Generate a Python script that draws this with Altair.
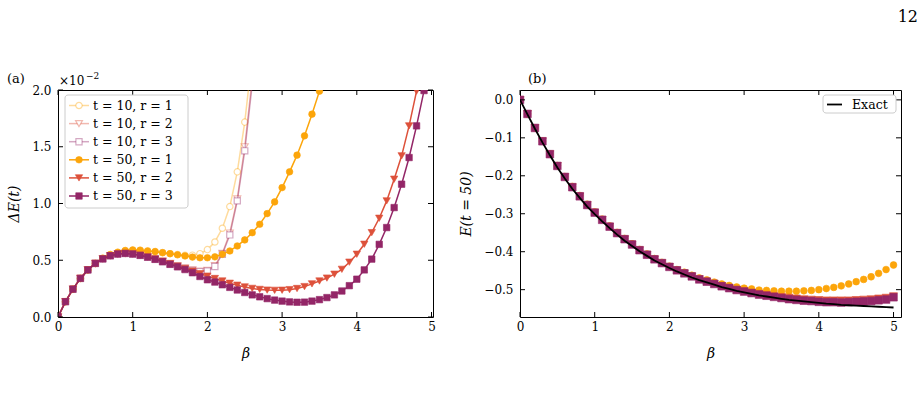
import altair as alt
import pandas as pd

# ---------------- data ----------------
beta = [0.0, 0.1, 0.2, 0.3, 0.4, 0.5, 0.6, 0.7, 0.8, 0.9,
        1.0, 1.1, 1.2, 1.3, 1.4, 1.5, 1.6, 1.7, 1.8, 1.9,
        2.0, 2.1, 2.2, 2.3, 2.4, 2.5, 2.6, 2.7, 2.8, 2.9,
        3.0, 3.1, 3.2, 3.3, 3.4, 3.5, 3.6, 3.7, 3.8, 3.9,
        4.0, 4.1, 4.2, 4.3, 4.4, 4.5, 4.6, 4.7, 4.8, 4.9,
        5.0]

# panel (a): Delta E(t), in units of 1e-2
dE_t10_r1 = [0.000, 0.135, 0.245, 0.340, 0.415, 0.472, 0.518, 0.550, 0.570, 0.585,
             0.590, 0.588, 0.582, 0.576, 0.567, 0.558, 0.550, 0.545, 0.545, 0.558,
             0.594, 0.661, 0.782, 0.973, 1.279, 1.717, 2.300, 3.000]
dE_t10_r2 = [0.000, 0.135, 0.245, 0.340, 0.415, 0.472, 0.512, 0.540, 0.555, 0.560,
             0.556, 0.545, 0.530, 0.512, 0.493, 0.473, 0.453, 0.433, 0.415, 0.405,
             0.412, 0.452, 0.560, 0.740, 1.040, 1.500, 2.100, 2.900]
dE_t10_r3 = [0.000, 0.135, 0.245, 0.340, 0.415, 0.472, 0.512, 0.540, 0.555, 0.560,
             0.555, 0.543, 0.527, 0.508, 0.488, 0.467, 0.447, 0.428, 0.410, 0.400,
             0.405, 0.445, 0.553, 0.723, 1.023, 1.464, 2.050, 2.800]
dE_t50_r1 = [0.000, 0.135, 0.245, 0.340, 0.415, 0.472, 0.518, 0.550, 0.570, 0.585,
             0.590, 0.588, 0.582, 0.576, 0.567, 0.558, 0.548, 0.538, 0.528, 0.522,
             0.522, 0.530, 0.552, 0.582, 0.626, 0.679, 0.743, 0.817, 0.911, 1.014,
             1.140, 1.279, 1.426, 1.596, 1.787, 1.990, 2.300, 2.500, 2.800, 3.100,
             3.500, 4.000, 4.400, 5.000, 5.600, 6.300, 7.000, 7.800, 8.800, 9.900,
             11.200]
dE_t50_r2 = [0.000, 0.135, 0.245, 0.340, 0.415, 0.472, 0.512, 0.540, 0.555, 0.560,
             0.556, 0.545, 0.530, 0.512, 0.492, 0.470, 0.448, 0.426, 0.404, 0.382,
             0.360, 0.339, 0.317, 0.297, 0.280, 0.265, 0.252, 0.243, 0.237, 0.235,
             0.236, 0.241, 0.251, 0.268, 0.292, 0.317, 0.343, 0.377, 0.420, 0.483,
             0.553, 0.641, 0.743, 0.870, 1.023, 1.214, 1.420, 1.684, 1.990, 2.330,
             2.720]
dE_t50_r3 = [0.000, 0.135, 0.245, 0.340, 0.415, 0.472, 0.512, 0.540, 0.555, 0.560,
             0.555, 0.543, 0.527, 0.508, 0.487, 0.464, 0.442, 0.418, 0.390, 0.357,
             0.328, 0.308, 0.284, 0.261, 0.238, 0.216, 0.195, 0.178, 0.162, 0.149,
             0.140, 0.133, 0.130, 0.131, 0.140, 0.153, 0.171, 0.195, 0.229, 0.276,
             0.333, 0.415, 0.510, 0.640, 0.788, 0.964, 1.170, 1.405, 1.684, 1.995,
             2.340]

# panel (b): E(t=50)
E_exact = [0.000, -0.038, -0.076, -0.112, -0.146, -0.178, -0.207, -0.234, -0.258, -0.281,
           -0.301, -0.320, -0.338, -0.355, -0.371, -0.385, -0.399, -0.411, -0.423, -0.433,
           -0.443, -0.452, -0.460, -0.468, -0.475, -0.481, -0.487, -0.493, -0.498, -0.503,
           -0.507, -0.511, -0.515, -0.518, -0.521, -0.524, -0.527, -0.529, -0.531, -0.533,
           -0.535, -0.537, -0.538, -0.540, -0.541, -0.542, -0.543, -0.544, -0.545, -0.546,
           -0.547]
E_t50_r1 = [0.000, -0.037, -0.074, -0.109, -0.142, -0.173, -0.202, -0.228, -0.252, -0.275,
            -0.295, -0.314, -0.332, -0.349, -0.365, -0.379, -0.394, -0.406, -0.418, -0.428,
            -0.438, -0.447, -0.454, -0.462, -0.469, -0.474, -0.480, -0.485, -0.489, -0.493,
            -0.496, -0.498, -0.501, -0.502, -0.503, -0.504, -0.504, -0.504, -0.503, -0.502,
            -0.500, -0.497, -0.494, -0.490, -0.485, -0.479, -0.473, -0.466, -0.457, -0.447,
            -0.435]
E_t50_r2 = [0.000, -0.037, -0.074, -0.109, -0.143, -0.174, -0.203, -0.230, -0.254, -0.277,
            -0.297, -0.316, -0.334, -0.351, -0.367, -0.381, -0.396, -0.408, -0.420, -0.430,
            -0.440, -0.449, -0.457, -0.465, -0.472, -0.478, -0.484, -0.490, -0.495, -0.500,
            -0.504, -0.508, -0.511, -0.514, -0.517, -0.519, -0.521, -0.523, -0.525, -0.526,
            -0.527, -0.528, -0.528, -0.528, -0.528, -0.527, -0.526, -0.525, -0.523, -0.521,
            -0.517]
E_t50_r3 = [0.000, -0.037, -0.074, -0.109, -0.143, -0.174, -0.203, -0.230, -0.254, -0.277,
            -0.297, -0.316, -0.334, -0.351, -0.367, -0.381, -0.396, -0.408, -0.420, -0.430,
            -0.440, -0.449, -0.457, -0.465, -0.473, -0.479, -0.485, -0.491, -0.496, -0.501,
            -0.505, -0.509, -0.513, -0.516, -0.519, -0.522, -0.525, -0.527, -0.529, -0.530,
            -0.532, -0.533, -0.533, -0.534, -0.533, -0.532, -0.531, -0.530, -0.528, -0.526,
            -0.520]

xticks = [0, 1, 2, 3, 4, 5]
yticks_a = [0.0, 0.5, 1.0, 1.5, 2.0]
yticks_b = [0.0, -0.1, -0.2, -0.3, -0.4, -0.5]
legend_labels_a = ["t = 10,  r = 1", "t = 10,  r = 2", "t = 10,  r = 3",
                   "t = 50,  r = 1", "t = 50,  r = 2", "t = 50,  r = 3"]
legend_label_b = "Exact"

# ---------------- style ----------------
FONT = "DejaVu Serif"
C1, C2, C3 = "#fca50a", "#dd513a", "#932667"
WA, WB, H = 375, 381, 227
TICK = 5

styles_a = [
    dict(vals=dE_t10_r1, color=C1, shape="circle", filled=False, alpha=0.4, size=40),
    dict(vals=dE_t10_r2, color=C2, shape="triangle-down", filled=False, alpha=0.4, size=48),
    dict(vals=dE_t10_r3, color=C3, shape="square", filled=False, alpha=0.4, size=38),
    dict(vals=dE_t50_r1, color=C1, shape="circle", filled=True, alpha=1.0, size=44),
    dict(vals=dE_t50_r2, color=C2, shape="triangle-down", filled=True, alpha=1.0, size=54),
    dict(vals=dE_t50_r3, color=C3, shape="square", filled=True, alpha=1.0, size=42),
]

one = pd.DataFrame({"k": [0]})


def marker(color, shape, filled, alpha, size, clip=True):
    if filled:
        return dict(shape=shape, size=size, filled=True, fill=color, stroke=color,
                    strokeWidth=0.6, opacity=alpha, clip=clip)
    return dict(shape=shape, size=size, filled=True, fill="white", fillOpacity=1,
                stroke=color, strokeOpacity=alpha, strokeWidth=1.2, clip=clip)


def xaxis():
    return alt.Axis(values=xticks, format="d", title="β", ticks=False, tickSize=0,
                    domain=False, grid=False, labelPadding=4, labelFlush=False,
                    labelOverlap=False, titleY=36,
                    titleBaseline="middle", titleFontStyle="italic")


def yaxis(vals, title, tx):
    return alt.Axis(values=vals, format=".1f", title=title, ticks=False, tickSize=0,
                    domain=False, grid=False, labelPadding=7, labelFlush=False,
                    labelOverlap=False, titleX=tx, titleY=H / 2,
                    titleAngle=-90, titleBaseline="middle", titleAlign="center",
                    titleFontStyle="italic")


def tick_layers(xscale, yscale, xt, yt, W, xax, yax):
    xt_df = pd.DataFrame({"beta": xt})
    yt_df = pd.DataFrame({"val": yt})
    rule = dict(color="black", strokeWidth=1)
    return [
        alt.Chart(xt_df).mark_rule(**rule).encode(
            x=alt.X("beta:Q", scale=xscale, axis=xax), y=alt.value(H), y2=alt.value(H - TICK)),
        alt.Chart(xt_df).mark_rule(**rule).encode(
            x=alt.X("beta:Q", scale=xscale, axis=xax), y=alt.value(0), y2=alt.value(TICK)),
        alt.Chart(yt_df).mark_rule(**rule).encode(
            y=alt.Y("val:Q", scale=yscale, axis=yax), x=alt.value(0), x2=alt.value(TICK)),
        alt.Chart(yt_df).mark_rule(**rule).encode(
            y=alt.Y("val:Q", scale=yscale, axis=yax), x=alt.value(W - TICK), x2=alt.value(W)),
    ]


# ---------------- panel (a) ----------------
xs_a = alt.Scale(domain=[0, 5.02], nice=False, zero=False)
ys_a = alt.Scale(domain=[0, 2.0], nice=False, zero=False)
xax_a = xaxis()
yax_a = yaxis(yticks_a, "ΔE(t)", -44)

layers_a = []
# invisible anchor fixing the page origin
layers_a.append(alt.Chart(one).mark_rect(opacity=0).encode(
    x=alt.value(-57), x2=alt.value(-56), y=alt.value(-89), y2=alt.value(-88)))

for st in styles_a:
    df = pd.DataFrame({"beta": beta[:len(st["vals"])], "val": st["vals"]})
    xe = alt.X("beta:Q", scale=xs_a, axis=xax_a)
    ye = alt.Y("val:Q", scale=ys_a, axis=yax_a)
    layers_a.append(alt.Chart(df).mark_line(
        color=st["color"], strokeWidth=1.5, opacity=st["alpha"], clip=True).encode(x=xe, y=ye))
    layers_a.append(alt.Chart(df).mark_point(
        **marker(st["color"], st["shape"], st["filled"], st["alpha"], st["size"])).encode(
        x=xe, y=ye))

layers_a += tick_layers(xs_a, ys_a, xticks, yticks_a, WA, xax_a, yax_a)

# legend (a)
layers_a.append(alt.Chart(one).mark_rect(
    fill="white", fillOpacity=0.8, stroke="#cccccc", strokeWidth=1, cornerRadius=3).encode(
    x=alt.value(7), x2=alt.value(130), y=alt.value(5), y2=alt.value(118)))
for i, (lab, st) in enumerate(zip(legend_labels_a, styles_a)):
    yy = 15.5 + 18.1 * i
    layers_a.append(alt.Chart(one).mark_rule(
        color=st["color"], strokeWidth=1.5, opacity=st["alpha"]).encode(
        x=alt.value(11), x2=alt.value(31), y=alt.value(yy)))
    layers_a.append(alt.Chart(one).mark_point(
        **marker(st["color"], st["shape"], st["filled"], st["alpha"], st["size"], clip=False)).encode(
        x=alt.value(21), y=alt.value(yy)))
    layers_a.append(alt.Chart(one).mark_text(
        align="left", baseline="middle", font=FONT, fontSize=12.5, color="black").encode(
        x=alt.value(35), y=alt.value(yy), text=alt.value(lab)))

# panel annotations
layers_a.append(alt.Chart(one).mark_text(
    align="left", baseline="middle", font=FONT, fontSize=13, color="black").encode(
    x=alt.value(-51), y=alt.value(-11), text=alt.value("(a)")))
layers_a.append(alt.Chart(one).mark_text(
    align="left", baseline="alphabetic", font=FONT, fontSize=12, color="black").encode(
    x=alt.value(1), y=alt.value(-5), text=alt.value("×10")))
layers_a.append(alt.Chart(one).mark_text(
    align="left", baseline="alphabetic", font=FONT, fontSize=9, color="black").encode(
    x=alt.value(28), y=alt.value(-11), text=alt.value("−2")))

panel_a = alt.layer(*layers_a).properties(width=WA, height=H)

# ---------------- panel (b) ----------------
xs_b = alt.Scale(domain=[0, 5.1], nice=False, zero=False)
ys_b = alt.Scale(domain=[-0.572, 0.026], nice=False, zero=False)
xax_b = xaxis()
yax_b = yaxis(yticks_b, "E(t = 50)", -54)

layers_b = []
styles_b = [
    dict(vals=E_t50_r1, color=C1, shape="circle", size=46),
    dict(vals=E_t50_r2, color=C2, shape="triangle-down", size=62),
    dict(vals=E_t50_r3, color=C3, shape="square", size=58),
]
for st in styles_b:
    df = pd.DataFrame({"beta": beta, "val": st["vals"]})
    layers_b.append(alt.Chart(df).mark_point(
        **marker(st["color"], st["shape"], True, 1.0, st["size"])).encode(
        x=alt.X("beta:Q", scale=xs_b, axis=xax_b),
        y=alt.Y("val:Q", scale=ys_b, axis=yax_b)))

df_ex = pd.DataFrame({"beta": beta, "val": E_exact})
layers_b.append(alt.Chart(df_ex).mark_line(color="black", strokeWidth=1.8, clip=True).encode(
    x=alt.X("beta:Q", scale=xs_b, axis=xax_b), y=alt.Y("val:Q", scale=ys_b, axis=yax_b)))

layers_b += tick_layers(xs_b, ys_b, xticks, yticks_b, WB, xax_b, yax_b)

# legend (b)
layers_b.append(alt.Chart(one).mark_rect(
    fill="white", fillOpacity=0.8, stroke="#cccccc", strokeWidth=1, cornerRadius=3).encode(
    x=alt.value(303), x2=alt.value(376), y=alt.value(5), y2=alt.value(23)))
layers_b.append(alt.Chart(one).mark_rule(color="black", strokeWidth=1.8).encode(
    x=alt.value(307), x2=alt.value(322), y=alt.value(14.5)))
layers_b.append(alt.Chart(one).mark_text(
    align="left", baseline="middle", font=FONT, fontSize=12.5, color="black").encode(
    x=alt.value(332), y=alt.value(14.5), text=alt.value(legend_label_b)))

layers_b.append(alt.Chart(one).mark_text(
    align="left", baseline="middle", font=FONT, fontSize=13, color="black").encode(
    x=alt.value(8), y=alt.value(-11), text=alt.value("(b)")))
layers_b.append(alt.Chart(one).mark_text(
    align="right", baseline="alphabetic", font=FONT, fontSize=16, color="black").encode(
    x=alt.value(398), y=alt.value(-68), text=alt.value("12")))

panel_b = alt.layer(*layers_b).properties(width=WB, height=H)

chart = alt.hconcat(panel_a, panel_b, spacing=87, bounds="flush").properties(
    padding={"left": 0, "top": 0, "right": 0, "bottom": 0},
    background="white",
).configure_view(
    stroke="black", strokeWidth=1
).configure_axis(
    labelFont=FONT, labelFontSize=12, labelColor="black",
    titleFont=FONT, titleFontSize=14, titleColor="black", titleFontWeight="normal",
)

chart.save("out.html", embed_options={"renderer": "svg", "actions": False})
